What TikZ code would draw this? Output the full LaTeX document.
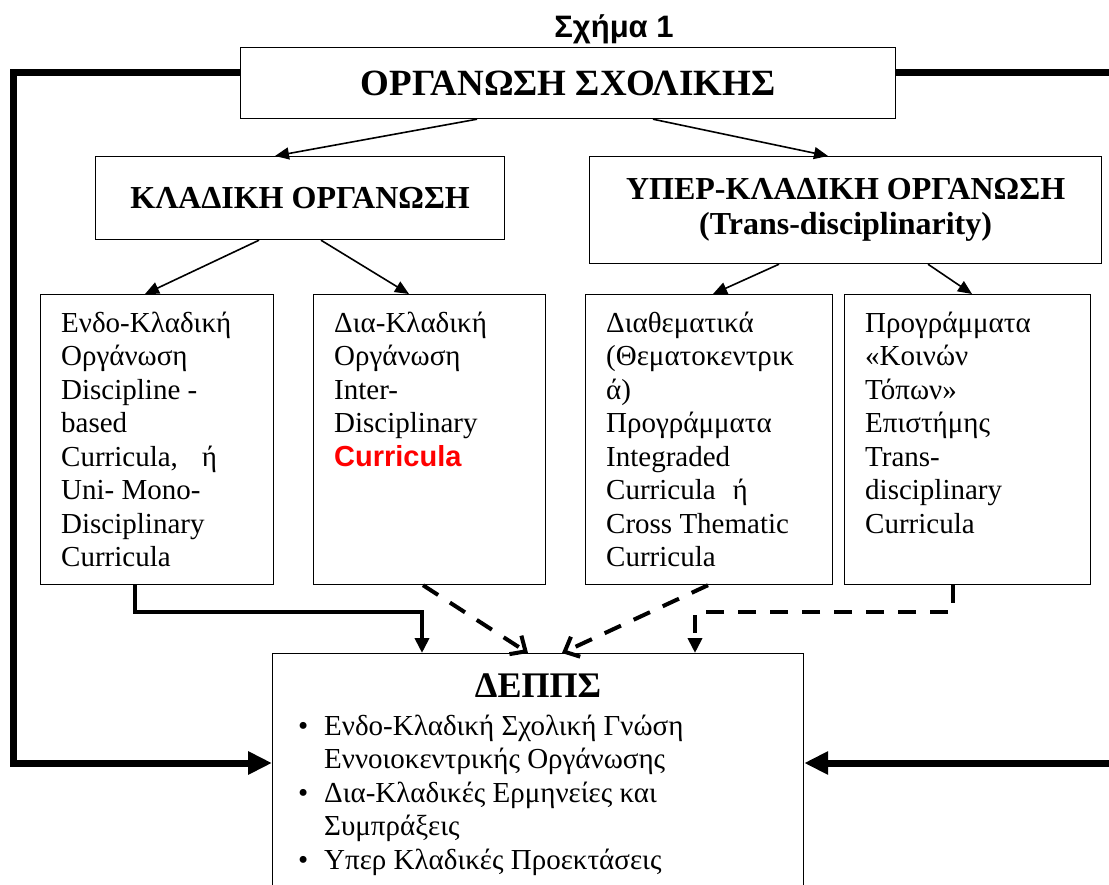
\documentclass[tikz,border=0pt]{standalone}
\usepackage{fontspec}
\setmainfont{Liberation Serif}
\newfontfamily\arialf{Liberation Sans}
\usetikzlibrary{arrows.meta,calc}
\definecolor{cred}{RGB}{255,0,0}
\newcommand{\bodyfont}{\fontsize{29}{33.5}\selectfont}
\tikzset{
  box/.style={draw, line width=1.2pt, inner sep=0pt, anchor=north west, rectangle},
  txt/.style={inner sep=0pt, anchor=base west},
  thinarr/.style={line width=1.6pt, -{Triangle[length=14pt,width=12pt]}},
  thickc/.style={line width=7pt, -{Triangle[length=24pt,width=22pt]}},
  medc/.style={line width=4pt, -{Triangle[length=15pt,width=14pt]}},
  dashc/.style={line width=4pt, dash pattern=on 18pt off 14pt},
}
\begin{document}
\begin{tikzpicture}[x=1pt,y=-1pt]
\useasboundingbox (0,0) rectangle (1109,884);
\clip (0,0) rectangle (1109,884);

% title
\node[inner sep=0pt, anchor=base, font=\arialf\bfseries\fontsize{31}{34}\selectfont] (fig) at (614,37) {Σχήμα 1};

% boxes
\node[box, minimum width=655pt, minimum height=71pt, font=\bfseries\fontsize{37}{40}\selectfont] (top) at (240,47) {ΟΡΓΑΝΩΣΗ ΣΧΟΛΙΚΗΣ};
\node[box, minimum width=409pt, minimum height=83pt, font=\bfseries\fontsize{32}{35}\selectfont] (kl) at (95,156) {ΚΛΑΔΙΚΗ ΟΡΓΑΝΩΣΗ};
\node[box, minimum width=512pt, minimum height=107pt, align=center, font=\bfseries\fontsize{32}{35}\selectfont] (yp) at (589,156) {ΥΠΕΡ-ΚΛΑΔΙΚΗ ΟΡΓΑΝΩΣΗ\\(Trans-disciplinarity)};

\node[box, minimum width=233pt, minimum height=290pt] (bA) at (40,294) {};
\node[box, minimum width=232pt, minimum height=290pt] (bB) at (313,294) {};
\node[box, minimum width=247pt, minimum height=290pt] (bC) at (585,294) {};
\node[box, minimum width=246pt, minimum height=290pt] (bD) at (844,294) {};
\node[box, minimum width=531pt, minimum height=300pt] (dep) at (272,653) {};

% box texts
\node[txt] (tA) at (61,332) {\parbox[t]{230pt}{\raggedright\bodyfont
Ενδο-Κλαδική\\Οργάνωση\\Discipline -\\based\\Curricula,\hspace{24pt}ή\\Uni- Mono-\\Disciplinary\\Curricula}};
\node[txt] (tB) at (334,332) {\parbox[t]{230pt}{\raggedright\bodyfont
Δια-Κλαδική\\Οργάνωση\\Inter-\\Disciplinary\\{\arialf\bfseries\color{cred}Curricula}}};
\node[txt] (tC) at (606,332) {\parbox[t]{230pt}{\raggedright\bodyfont
Διαθεματικά\\(Θεματοκεντρικ\\ά)\\Προγράμματα\\Integraded\\Curricula\hspace{17pt}ή\\Cross Thematic\\Curricula}};
\node[txt] (tD) at (865,332) {\parbox[t]{230pt}{\raggedright\bodyfont
Προγράμματα\\«Κοινών\\Τόπων»\\Επιστήμης\\Trans-\\disciplinary\\Curricula}};

% DEPPS contents
\node[inner sep=0pt, anchor=base, font=\bfseries\fontsize{36}{40}\selectfont] (dt) at (538,697) {ΔΕΠΠΣ};
\node[txt] (dl) at (298,735) {\parbox[t]{500pt}{\raggedright\bodyfont
\makebox[26pt][l]{•}Ενδο-Κλαδική Σχολική Γνώση\\
\hspace*{26pt}Εννοιοκεντρικής Οργάνωσης\\
\makebox[26pt][l]{•}Δια-Κλαδικές Ερμηνείες και\\
\hspace*{26pt}Συμπράξεις\\
\makebox[26pt][l]{•}Υπερ Κλαδικές Προεκτάσεις}};

% thin arrows
\draw[thinarr] ($(top.south west)+(237,0)$) -- ($(kl.north west)+(180,0)$);
\draw[thinarr] ($(top.south west)+(413,0)$) -- ($(yp.north west)+(239,0)$);
\draw[thinarr] ($(kl.south west)+(164,0)$) -- ($(bA.north west)+(105,0)$);
\draw[thinarr] ($(kl.south west)+(226,0)$) -- ($(bB.north west)+(96,0)$);
\draw[thinarr] ($(yp.south west)+(190,0)$) -- ($(bC.north west)+(128,0)$);
\draw[thinarr] ($(yp.south west)+(339,0)$) -- ($(bD.north west)+(128,0)$);

% thick side connectors
\coordinate (Lt) at ($(top.north west)+(0,25)$);
\coordinate (Le) at ($(dep.north west)+(0,110)$);
\coordinate (Rt) at ($(top.north east)+(0,25)$);
\coordinate (Re) at ($(dep.north east)+(0,110)$);
\draw[thickc] (Lt) -- ++(-227,0) |- (Le);
\draw[thickc] (Rt) -- ++(230,0) |- (Re);

% connectors into DEPPS
\draw[medc] ($(bA.south west)+(95,0)$) -- ++(0,27) -| ($(dep.north west)+(150,0)$);
\draw[dashc, -{Straight Barb[length=12pt,width=22pt]}] ($(bB.south west)+(110,0)$) -- ($(dep.north west)+(256,0)$);
\draw[dashc, -{Straight Barb[length=12pt,width=22pt]}] ($(bC.south west)+(123,0)$) -- ($(dep.north west)+(290,0)$);
\draw[dashc, -{Triangle[length=15pt,width=14pt]}] ($(bD.south west)+(109,0)$) -- ++(0,27) -| ($(dep.north west)+(423,0)$);
\end{tikzpicture}
\end{document}
